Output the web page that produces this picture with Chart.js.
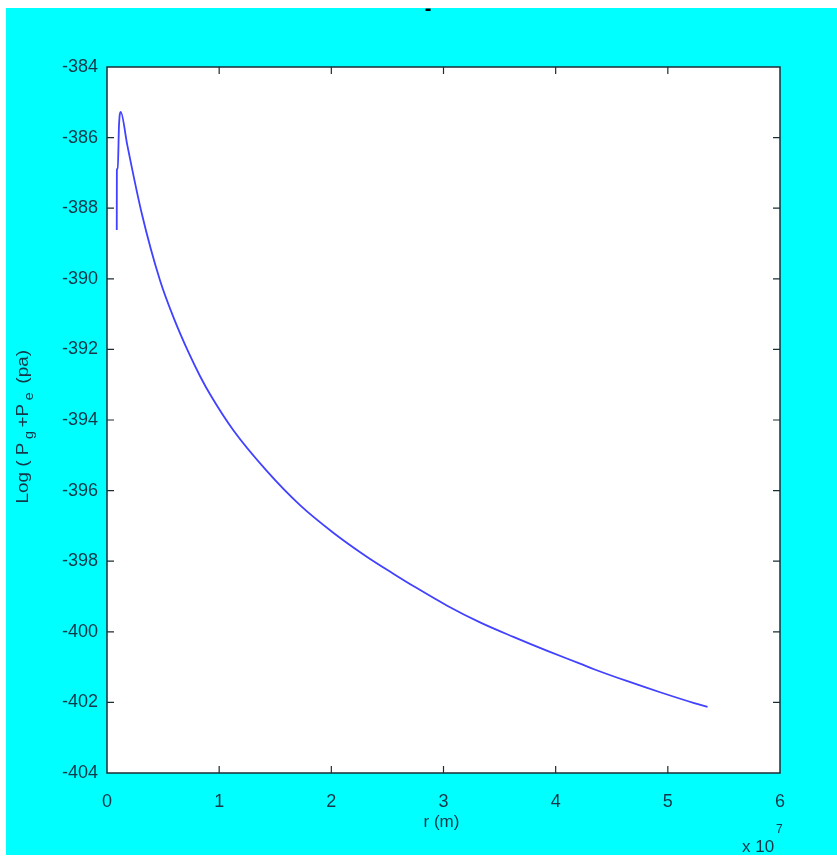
<!DOCTYPE html>
<html>
<head>
<meta charset="utf-8">
<script src="https://cdn.jsdelivr.net/npm/chart.js@4.4.0/dist/chart.umd.min.js"></script>
<style>
  html, body { margin: 0; padding: 0; background: #fff; }
  #frame { position: absolute; left: 6px; top: 8px; width: 831px; height: 847px; background: #00ffff; }
  #plot { position: absolute; left: 0; top: 0; }
</style>
</head>
<body>
<div id="frame"></div>
<canvas id="plot" width="837" height="857"></canvas>
<script>
// r in units of 1e7 m
const rValues = [0.087, 0.088, 0.096, 0.107, 0.122, 0.180, 0.310, 0.473, 0.600, 0.726, 0.830, 0.920,
  1.128, 1.426, 1.723, 2.020, 2.319, 2.556, 2.735, 3.033, 3.330, 3.628, 3.926,
  4.223, 4.342, 4.640, 4.938, 5.235, 5.354];
const logP = [-388.62, -386.92, -386.87, -385.65, -385.27, -386.20, -388.15, -390.05, -391.15, -392.08, -392.76, -393.28,
  -394.30, -395.45, -396.42, -397.20, -397.88, -398.36, -398.71, -399.26, -399.74, -400.15, -400.54,
  -400.91, -401.06, -401.40, -401.72, -402.02, -402.13];
const xTicks = [0, 1, 2, 3, 4, 5, 6];
const yTicks = [-404, -402, -400, -398, -396, -394, -392, -390, -388, -386, -384];

const ink = '#12384a';
const tickFont = { family: 'Liberation Sans, Arial, sans-serif', size: 18 };

const points = rValues.map((r, i) => ({ x: r, y: logP[i] }));

const matlabBox = {
  id: 'matlabBox',
  beforeDraw(chart) {
    const a = chart.chartArea;
    const ctx = chart.ctx;
    ctx.save();
    ctx.fillStyle = '#ffffff';
    ctx.fillRect(a.left, a.top, a.right - a.left, a.bottom - a.top);
    ctx.restore();
  },
  afterDraw(chart) {
    const a = chart.chartArea;
    const ctx = chart.ctx;
    const xs = chart.scales.x, ys = chart.scales.y;
    ctx.save();
    ctx.strokeStyle = '#1c2c34';
    ctx.lineWidth = 1.5;
    ctx.strokeRect(a.left, a.top, a.right - a.left, a.bottom - a.top);

    // inward ticks on all four sides
    ctx.lineWidth = 1.2;
    ctx.beginPath();
    xTicks.slice(1, -1).forEach(v => {
      const px = xs.getPixelForValue(v);
      ctx.moveTo(px, a.bottom); ctx.lineTo(px, a.bottom - 7);
      ctx.moveTo(px, a.top); ctx.lineTo(px, a.top + 7);
    });
    yTicks.slice(1, -1).forEach(v => {
      const py = ys.getPixelForValue(v);
      ctx.moveTo(a.left, py); ctx.lineTo(a.left + 7, py);
      ctx.moveTo(a.right, py); ctx.lineTo(a.right - 7, py);
    });
    ctx.stroke();

    // x label and exponent
    ctx.fillStyle = ink;
    ctx.font = '17px Liberation Sans, Arial, sans-serif';
    ctx.textAlign = 'center';
    ctx.textBaseline = 'middle';
    ctx.fillText('r (m)', (a.left + a.right) / 2 - 2, 822);
    ctx.textAlign = 'left';
    ctx.fillText('x 10', 742, 847);
    ctx.font = '12px Liberation Sans, Arial, sans-serif';
    ctx.fillText('7', 776, 830);

    // y label with subscripts, rotated
    const parts = [
      { t: 'Log ( P', sub: false }, { t: 'g', sub: true }, { t: '+P', sub: false },
      { t: 'e', sub: true }, { t: ' (pa)', sub: false }
    ];
    const mainF = '16px Liberation Sans, Arial, sans-serif';
    const subF = '12px Liberation Sans, Arial, sans-serif';
    let total = 0;
    parts.forEach(p => { ctx.font = p.sub ? subF : mainF; p.w = ctx.measureText(p.t).width; total += p.w + 3; });
    const targetLen = 157;
    const k = targetLen / total;
    ctx.translate(28, 425);
    ctx.rotate(-Math.PI / 2);
    ctx.scale(k, 1);
    ctx.textAlign = 'left';
    ctx.textBaseline = 'alphabetic';
    let pos = -total / 2;
    parts.forEach(p => {
      ctx.font = p.sub ? subF : mainF;
      ctx.fillText(p.t, pos, p.sub ? 5 : 0);
      pos += p.w + 3;
    });
    ctx.restore();

    // truncated title mark
    ctx.save();
    ctx.fillStyle = '#000';
    ctx.font = 'bold 20px Liberation Sans, Arial, sans-serif';
    ctx.textAlign = 'center';
    ctx.textBaseline = 'middle';
    ctx.fillText('-', 428, 9);
    ctx.restore();
  }
};

new Chart(document.getElementById('plot'), {
  type: 'line',
  data: {
    datasets: [{
      data: points,
      borderColor: '#4141ff',
      borderWidth: 1.8,
      pointRadius: 0,
      fill: false,
      cubicInterpolationMode: 'monotone'
    }]
  },
  options: {
    responsive: false,
    devicePixelRatio: 1,
    animation: false,
    layout: { padding: { left: 0, top: 67, right: 57, bottom: 0 } },
    plugins: { legend: { display: false }, tooltip: { enabled: false } },
    scales: {
      x: {
        type: 'linear',
        min: 0,
        max: 6,
        grid: { display: false, drawTicks: false },
        border: { display: false },
        afterBuildTicks: s => { s.ticks = xTicks.map(v => ({ value: v })); },
        afterFit: s => { s.height = 84; },
        ticks: { color: ink, font: tickFont, padding: 18, maxRotation: 0, autoSkip: false }
      },
      y: {
        type: 'linear',
        min: -404,
        max: -384,
        grid: { display: false, drawTicks: false },
        border: { display: false },
        afterBuildTicks: s => { s.ticks = yTicks.map(v => ({ value: v })); },
        afterFit: s => { s.width = 107; },
        ticks: { color: ink, font: tickFont, padding: 9, autoSkip: false }
      }
    }
  },
  plugins: [matlabBox]
});
</script>
</body>
</html>
